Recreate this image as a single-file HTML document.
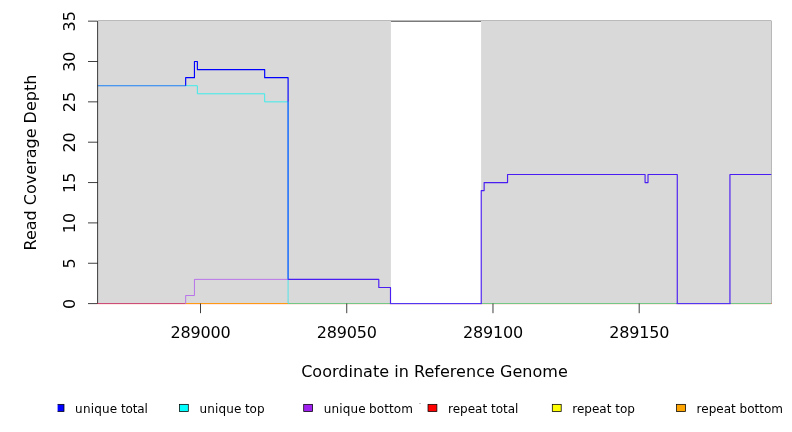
<!DOCTYPE html>
<html lang="en">
<head>
<meta charset="utf-8">
<title>Read coverage depth plot</title>
<style>
  html, body { margin: 0; padding: 0; background: #ffffff; }
  body { width: 792px; height: 432px; overflow: hidden; }
  svg { display: block; }
  text { font-family: "DejaVu Sans", "Liberation Sans", sans-serif; fill: #000; }
  .t16 { font-size: 16px; }
  .t12 { font-size: 12px; }
  .tx { letter-spacing: -0.18px; }
</style>
</head>
<body>
<svg width="792" height="432" viewBox="0 0 792 432">
<defs><clipPath id="lc"><rect x="57.6" y="390" width="700" height="42"/></clipPath></defs>
<rect x="0" y="0" width="792" height="432" fill="#ffffff"/>
<rect x="97.6" y="21" width="293.3" height="282.6" fill="#d9d9d9"/>
<rect x="481.1" y="21" width="290.5" height="282.6" fill="#d9d9d9"/>
<rect x="98" y="20" width="673" height="1" fill="#bababa"/>
<rect x="771" y="20" width="1" height="1" fill="#dedede"/>
<rect x="771" y="21" width="1" height="282" fill="#b8b8b8"/>
<rect x="391" y="21" width="90" height="1" fill="#7a7a7a"/>
<rect x="97.6" y="303" width="88.07" height="1" fill="#cd4d7a" opacity="1"/>
<rect x="185.67" y="303" width="102.42" height="1" fill="#ff9a12" opacity="1"/>
<rect x="288.09" y="303" width="102.81" height="1" fill="#72c884" opacity="1"/>
<rect x="481.1" y="303" width="289.9" height="1" fill="#72c884" opacity="1"/>
<rect x="771" y="303" width="1" height="1" fill="#e08272" opacity="1"/>
<rect x="98" y="304" width="673" height="1" fill="#ffe8e8" opacity="1"/>
<path d="M185.67 85.71H197.37V93.78H264.68V101.85H288.09" fill="none" stroke="#22eeee" stroke-width="0.85"/>
<path d="M288.09 279.39V303.6" fill="none" stroke="#30e8ee" stroke-width="0.8"/>
<path d="M185.67 303.6V295.53H194.45V279.39H288.09" fill="none" stroke="#b05aee" stroke-width="0.8"/>
<path d="M97.6 85.71H185.67" fill="none" stroke="#1a80f6" stroke-width="1.15"/>
<path d="M288.09 101.85V279.39" fill="none" stroke="#2272fa" stroke-width="1.6"/>
<path d="M185.67 85.71V77.64H194.45V61.5H197.37V69.57H264.68V77.64H288.09V101.85" fill="none" stroke="#0000ff" stroke-width="1.15" stroke-linejoin="round"/>
<path d="M288.09 279.39H378.8V287.46H390.5V304" fill="none" stroke="#4a1ef2" stroke-width="1.15" stroke-linejoin="round"/>
<path d="M481.22 304V190.62H484.14V182.55H507.55V174.48H645.08V182.55H648.01V174.48H677.27V304" fill="none" stroke="#4a1ef2" stroke-width="1.15" stroke-linejoin="round"/>
<path d="M729.94 304V174.48H771.3" fill="none" stroke="#4a1ef2" stroke-width="1.15" stroke-linejoin="round"/>
<rect x="389.93" y="303" width="91.86" height="1" fill="#5038f1" opacity="1"/>
<rect x="389.93" y="304" width="91.86" height="1" fill="#4a1ef2" opacity="0.13"/>
<rect x="676.7" y="303" width="53.81" height="1" fill="#5038f1" opacity="1"/>
<rect x="676.7" y="304" width="53.81" height="1" fill="#4a1ef2" opacity="0.13"/>
<path d="M97.6 21.15V303.6" stroke="#000" stroke-width="0.75" fill="none"/>
<path d="M88.0 303.6H97.6" stroke="#000" stroke-width="0.75" fill="none"/>
<path d="M88.0 263.25H97.6" stroke="#000" stroke-width="0.75" fill="none"/>
<path d="M88.0 222.9H97.6" stroke="#000" stroke-width="0.75" fill="none"/>
<path d="M88.0 182.55H97.6" stroke="#000" stroke-width="0.75" fill="none"/>
<path d="M88.0 142.2H97.6" stroke="#000" stroke-width="0.75" fill="none"/>
<path d="M88.0 101.85H97.6" stroke="#000" stroke-width="0.75" fill="none"/>
<path d="M88.0 61.5H97.6" stroke="#000" stroke-width="0.75" fill="none"/>
<path d="M88.0 21.15H97.6" stroke="#000" stroke-width="0.75" fill="none"/>
<path d="M200.5 303.6V313.2" stroke="#000" stroke-width="0.75" fill="none"/>
<path d="M346.74 303.6V313.2" stroke="#000" stroke-width="0.75" fill="none"/>
<path d="M492.97 303.6V313.2" stroke="#000" stroke-width="0.75" fill="none"/>
<path d="M639.2 303.6V313.2" stroke="#000" stroke-width="0.75" fill="none"/>
<rect x="97" y="303" width="1" height="1" fill="#8a3036"/>
<g opacity="0.999">
<text class="t16" text-anchor="middle" transform="translate(75 303.8) rotate(-90)">0</text>
<text class="t16" text-anchor="middle" transform="translate(75 263.45) rotate(-90)">5</text>
<text class="t16" text-anchor="middle" transform="translate(75 223.1) rotate(-90)">10</text>
<text class="t16" text-anchor="middle" transform="translate(75 182.75) rotate(-90)">15</text>
<text class="t16" text-anchor="middle" transform="translate(75 142.4) rotate(-90)">20</text>
<text class="t16" text-anchor="middle" transform="translate(75 102.05) rotate(-90)">25</text>
<text class="t16" text-anchor="middle" transform="translate(75 61.7) rotate(-90)">30</text>
<text class="t16" text-anchor="middle" transform="translate(75 21.35) rotate(-90)">35</text>
<text class="t16 tx" text-anchor="middle" x="200.5" y="338">289000</text>
<text class="t16 tx" text-anchor="middle" x="346.74" y="338">289050</text>
<text class="t16 tx" text-anchor="middle" x="492.97" y="338">289100</text>
<text class="t16 tx" text-anchor="middle" x="639.2" y="338">289150</text>
<text class="t16" text-anchor="middle" x="434.45" y="377" style="letter-spacing:0.03px">Coordinate in Reference Genome</text>
<text class="t16" text-anchor="middle" transform="translate(36.2 162.57) rotate(-90)">Read Coverage Depth</text>
<g clip-path="url(#lc)"><rect x="55.1" y="404.35" width="8.9" height="7.2" fill="#0000ff" stroke="#000" stroke-width="0.75"/></g>
<text class="t12" x="75.1" y="412.5"><tspan style="letter-spacing:0.18px">unique</tspan><tspan dx="0" style="letter-spacing:-0.15px"> total</tspan></text>
<rect x="179.4" y="404.35" width="8.9" height="7.2" fill="#00ffff" stroke="#000" stroke-width="0.75"/>
<text class="t12" x="199.4" y="412.5"><tspan style="letter-spacing:0.18px">unique</tspan><tspan dx="-0.55" style="letter-spacing:0.0px"> top</tspan></text>
<rect x="303.7" y="404.35" width="8.9" height="7.2" fill="#a020f0" stroke="#000" stroke-width="0.75"/>
<text class="t12" x="323.7" y="412.5"><tspan style="letter-spacing:0.18px">unique</tspan><tspan dx="-0.75" style="letter-spacing:0.1px"> bottom</tspan></text>
<rect x="428.0" y="404.35" width="8.9" height="7.2" fill="#ff0000" stroke="#000" stroke-width="0.75"/>
<text class="t12" x="448.0" y="412.5">repeat total</text>
<rect x="552.3" y="404.35" width="8.9" height="7.2" fill="#ffff00" stroke="#000" stroke-width="0.75"/>
<text class="t12" x="572.3" y="412.5">repeat top</text>
<rect x="676.6" y="404.35" width="8.9" height="7.2" fill="#ffa500" stroke="#000" stroke-width="0.75"/>
<text class="t12" x="696.6" y="412.5">repeat bottom</text>
</g>
<rect x="419" y="403" width="2" height="1" fill="#c6c6c6"/>
</svg>
</body>
</html>
